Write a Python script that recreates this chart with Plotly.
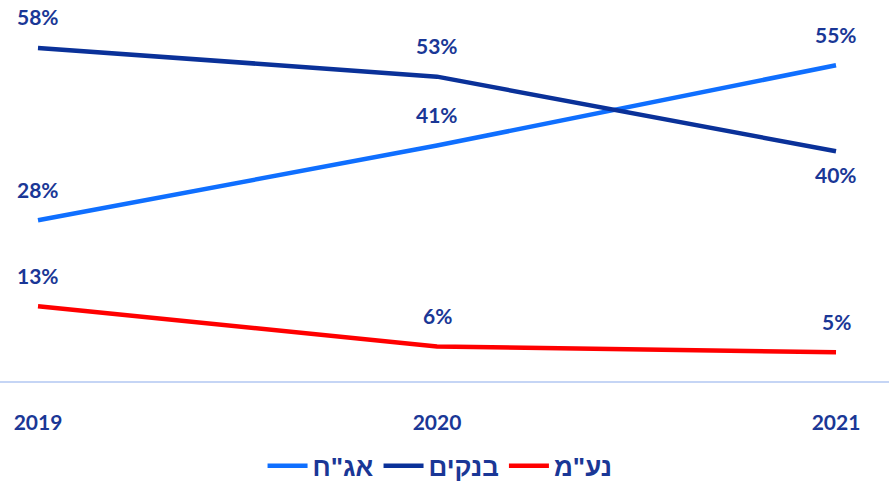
import plotly.graph_objects as go

years = ["2019", "2020", "2021"]
bonds = [28, 41, 55]      # אג"ח
banks = [58, 53, 40]      # בנקים
nam = [13, 6, 5]          # נע"מ
series_names = ['אג"ח', 'בנקים', 'נע"מ']
colors = ["#0F6FFF", "#0A3199", "#FF0000"]
text_color = "#1A3796"
# label position: 1 = above, -1 = below
label_side = {
    'אג"ח': [1, 1, 1],
    'בנקים': [1, 1, -1],
    'נע"מ': [1, 1, 1],
}

FONT = "Lato, Liberation Sans, DejaVu Sans, sans-serif"

fig = go.Figure()
annotations = []
for name, vals, col in zip(series_names, [bonds, banks, nam], colors):
    fig.add_trace(go.Scatter(
        x=years, y=vals, mode="lines", name=name,
        line=dict(color=col, width=4.5),
        hoverinfo="skip",
    ))
    for i, v in enumerate(vals):
        side = label_side[name][i]
        annotations.append(dict(
            x=i, y=v, xref="x", yref="y", text=f"<b>{v}%</b>", showarrow=False,
            yshift=31 if side > 0 else -23,
            font=dict(family=FONT, size=21, color=text_color),
        ))

fig.update_layout(
    width=889, height=484,
    margin=dict(l=0, r=0, t=2, b=103, autoexpand=False),
    paper_bgcolor="white", plot_bgcolor="white",
    showlegend=True,
    legend=dict(
        orientation="h", x=0.495, xanchor="center", y=-0.224, yanchor="middle",
        font=dict(family="Liberation Sans, DejaVu Sans, sans-serif", size=26,
                  color=text_color, weight="bold"),
        itemwidth=40, traceorder="normal",
    ),
    annotations=annotations,
    xaxis=dict(
        type="category", range=[-0.0952, 2.1328],
        showgrid=False, zeroline=False, automargin=False,
        showline=True, linecolor="#C5D5F5", linewidth=2,
        ticks="", ticklabelstandoff=22,
        tickfont=dict(family=FONT, size=21, color=text_color, weight="bold"),
    ),
    yaxis=dict(
        range=[0, 66], showticklabels=False, showline=False,
        showgrid=False, zeroline=False, automargin=False,
    ),
)

fig.write_html("out.html", config={"displayModeBar": False},
               post_script="document.body.style.margin='0';")
